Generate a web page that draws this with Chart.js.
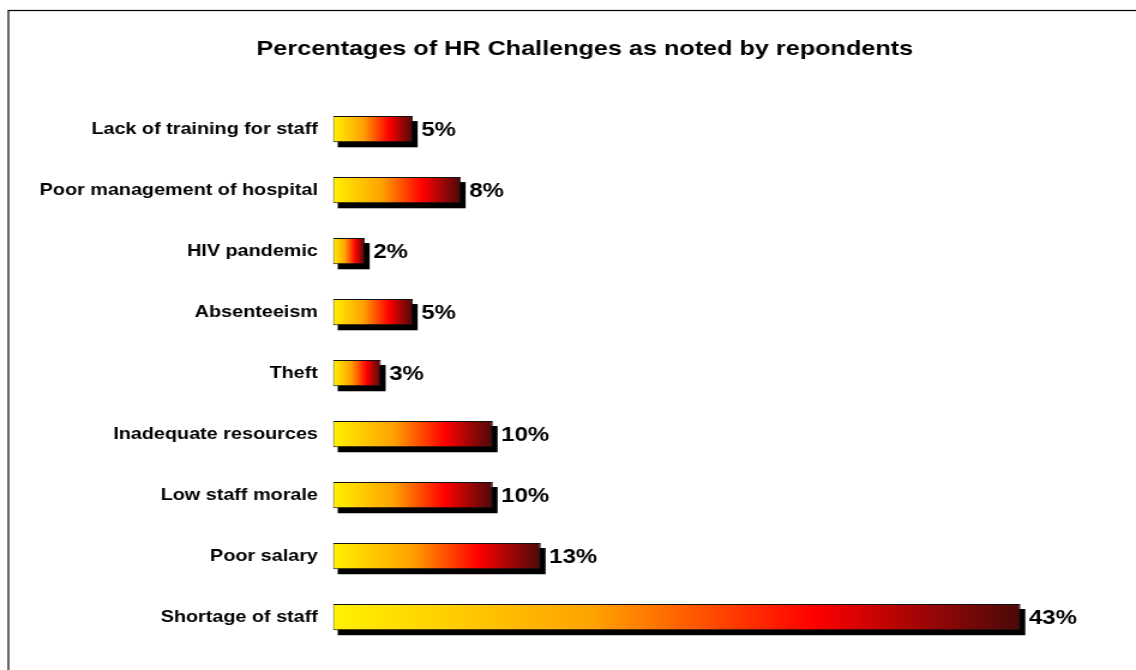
<!DOCTYPE html>
<html>
<head>
<meta charset="utf-8">
<title>HR Challenges</title>
<script src="https://cdn.jsdelivr.net/npm/chart.js@4.4.1/dist/chart.umd.min.js"></script>
<style>
  html, body { margin: 0; padding: 0; background: #fff; }
  /* the chart is drawn narrow and stretched sideways, like the wide spreadsheet fonts */
  #hrchart { display: block; width: 1136px; height: 670px; }
</style>
</head>
<body>
<canvas id="hrchart" width="947" height="670" style="width:1136px;height:670px"></canvas>
<script>
const challenges = [
    'Lack of training for staff',
    'Poor management of hospital',
    'HIV pandemic',
    'Absenteeism',
    'Theft',
    'Inadequate resources',
    'Low staff morale',
    'Poor salary',
    'Shortage of staff'
];
const percentages = [5, 8, 2, 5, 3, 10, 10, 13, 43];

const FONT = '"Liberation Sans", Arial, Helvetica, sans-serif';

// yellow -> orange -> red -> dark maroon across each bar
function barGradient(c) {
    const chart = c.chart;
    const xs = chart.scales.x;
    if (!chart.chartArea || !xs || c.type !== 'data') return '#ff9900';
    const x0 = xs.getPixelForValue(0);
    const x1 = xs.getPixelForValue(c.raw);
    const g = chart.ctx.createLinearGradient(x0, 0, x1, 0);
    g.addColorStop(0, '#fff200');
    g.addColorStop(0.38, '#ffa200');
    g.addColorStop(0.70, '#ff0000');
    g.addColorStop(1, '#4a0a0a');
    return g;
}

// outer frame of the chart
const framePlugin = {
    id: 'frame',
    beforeDraw(chart) {
        const ctx = chart.ctx;
        ctx.save();
        ctx.strokeStyle = '#000';
        ctx.lineWidth = 1.2;
        ctx.strokeRect(7, 10.5, 2000, 2000);
        ctx.restore();
    }
};

// solid black shadow offset behind every bar
const shadowPlugin = {
    id: 'barShadow',
    beforeDatasetsDraw(chart) {
        const ctx = chart.ctx;
        const meta = chart.getDatasetMeta(0);
        ctx.save();
        ctx.fillStyle = '#000';
        meta.data.forEach(bar => {
            const { x, y, base, height } = bar.getProps(['x', 'y', 'base', 'height'], true);
            ctx.fillRect(base + 4, y - height / 2 + 5, x - base, height);
        });
        ctx.restore();
    }
};

// "nn%" next to each bar
const valueLabels = {
    id: 'valueLabels',
    afterDatasetsDraw(chart) {
        const ctx = chart.ctx;
        const meta = chart.getDatasetMeta(0);
        ctx.save();
        ctx.font = 'bold 20px ' + FONT;
        ctx.fillStyle = '#000';
        ctx.textAlign = 'left';
        ctx.textBaseline = 'middle';
        meta.data.forEach((bar, i) => {
            ctx.fillText(percentages[i] + '%', bar.x + 7, bar.y + 1);
        });
        ctx.restore();
    }
};

const ctx = document.getElementById('hrchart').getContext('2d');
const hrchart = new Chart(ctx, {
    type: 'bar',
    data: {
        labels: challenges,
        datasets: [{
            data: percentages,
            backgroundColor: barGradient,
            borderColor: '#111',
            borderWidth: 1,
            borderSkipped: false,
            barPercentage: 0.86,
            categoryPercentage: 0.5
        }]
    },
    options: {
        indexAxis: 'y',
        responsive: false,
        animation: false,
        devicePixelRatio: 1,
        layout: {
            padding: { left: 31, right: 3, top: 0, bottom: 8.75 }
        },
        plugins: {
            legend: { display: false },
            tooltip: { enabled: false },
            title: {
                display: true,
                text: 'Percentages of HR Challenges as noted by repondents',
                color: '#000',
                font: { family: FONT, size: 21, weight: 'bold', lineHeight: 1.2 },
                padding: { top: 37, bottom: 36.5 }
            }
        },
        scales: {
            x: {
                display: false,
                min: 0,
                max: 50
            },
            y: {
                grid: { display: false, drawTicks: false },
                border: { display: false },
                ticks: {
                    color: '#000',
                    padding: 12.5,
                    font: { family: FONT, size: 16.5, weight: 'bold' }
                },
                afterFit(scale) {
                    scale.width = 277.5 - 31;
                }
            }
        }
    },
    plugins: [framePlugin, shadowPlugin, valueLabels]
});
</script>
</body>
</html>
